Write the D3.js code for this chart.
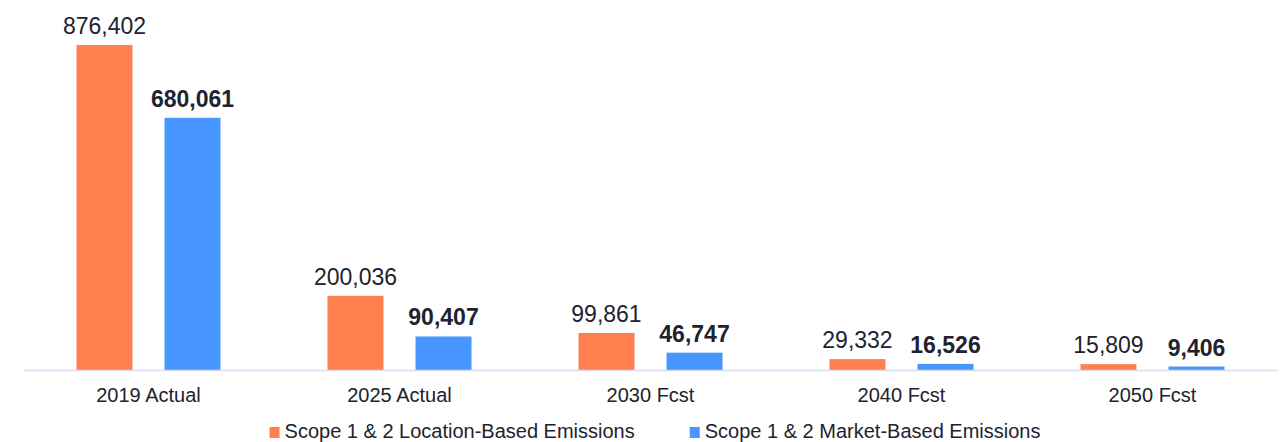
<!DOCTYPE html>
<html>
<head>
<meta charset="utf-8">
<script src="https://cdn.jsdelivr.net/npm/d3@7"></script>
<style>
  html, body { margin: 0; padding: 0; background: #fff; }
  svg { display: block; font-family: "Liberation Sans", Arial, Helvetica, sans-serif; }
</style>
</head>
<body>
<svg id="chart" width="1285" height="442"></svg>
<script>
const categories = ["2019 Actual", "2025 Actual", "2030 Fcst", "2040 Fcst", "2050 Fcst"];
const seriesNames = ["Scope 1 & 2 Location-Based Emissions", "Scope 1 & 2 Market-Based Emissions"];
const locationBased = [876402, 200036, 99861, 29332, 15809];
const marketBased = [680061, 90407, 46747, 16526, 9406];
const colors = ["#FF7F4E", "#4896FF"];

const svg = d3.select("#chart");
const W = 1285, H = 442;
const plot = { left: 23, right: 1278, top: 45, bottom: 370 };

const x0 = d3.scaleBand().domain(categories).range([plot.left, plot.right]).paddingInner(0).paddingOuter(0);
const groupW = 144;
const x1 = d3.scaleBand().domain([0, 1])
  .range([(x0.bandwidth() - groupW) / 2, (x0.bandwidth() + groupW) / 2])
  .paddingInner(0.364).paddingOuter(0);
const y = d3.scaleLinear().domain([0, d3.max(locationBased)]).range([plot.bottom, plot.top]);

const seriesData = [locationBased, marketBased];
const textColor = "#22222e";

const groups = svg.append("g").selectAll("g")
  .data(categories).join("g")
  .attr("transform", d => `translate(${x0(d)},0)`);

groups.selectAll("rect")
  .data((d, i) => seriesData.map((s, k) => ({ k, v: s[i] })))
  .join("rect")
  .attr("x", d => x1(d.k))
  .attr("width", x1.bandwidth())
  .attr("y", d => y(d.v))
  .attr("height", d => plot.bottom - y(d.v))
  .attr("fill", d => colors[d.k]);

groups.selectAll("text.val")
  .data((d, i) => seriesData.map((s, k) => ({ k, v: s[i] })))
  .join("text")
  .attr("class", "val")
  .attr("x", d => x1(d.k) + x1.bandwidth() / 2)
  .attr("y", d => y(d.v) - 11)
  .attr("text-anchor", "middle")
  .attr("font-size", 23)
  .attr("font-weight", d => d.k === 1 ? "bold" : "normal")
  .attr("fill", textColor)
  .text(d => d3.format(",")(d.v));

// x axis
const xAxis = d3.axisBottom(x0).tickSize(0).tickPadding(0);
const ax = svg.append("g").attr("transform", `translate(0,${plot.bottom})`).call(xAxis);
ax.select(".domain").attr("stroke", "#dcdcf0").attr("stroke-width", 1.5);
ax.selectAll(".tick text")
  .attr("y", 32).attr("dy", 0)
  .attr("font-size", 20)
  .attr("font-family", "\"Liberation Sans\", Arial, sans-serif")
  .attr("fill", textColor);

// legend
const legend = svg.append("g");
const items = legend.selectAll("g").data(seriesNames).join("g");
items.append("rect").attr("width", 10).attr("height", 11).attr("y", -11).attr("fill", (d, i) => colors[i]);
items.append("text").attr("x", 15).attr("y", 0).attr("font-size", 20).attr("fill", textColor).text(d => d);
let cx = 0;
const gap = 55;
items.each(function () {
  const w = this.getBBox().width;
  d3.select(this).attr("data-x", cx);
  cx += w + gap;
});
const totalW = cx - gap;
const startX = 655 - totalW / 2;
items.attr("transform", function () {
  return `translate(${startX + (+this.getAttribute("data-x"))},438)`;
});
</script>
</body>
</html>
